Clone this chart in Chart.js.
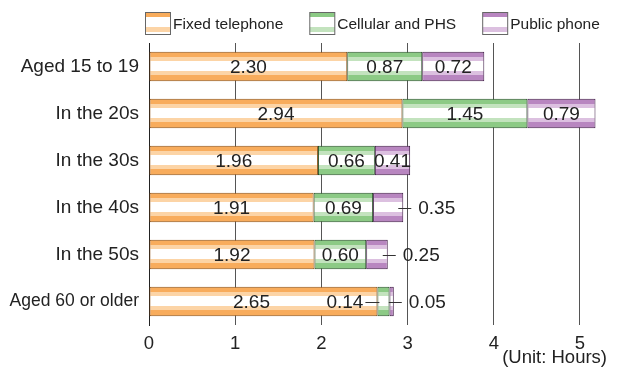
<!DOCTYPE html>
<html>
<head>
<meta charset="utf-8">
<script src="https://cdn.jsdelivr.net/npm/chart.js@4.4.1/dist/chart.umd.min.js"></script>
<style>
  body { margin: 0; background: #fff; }
</style>
</head>
<body>
<canvas id="chart" width="622" height="373"></canvas>
<script>
const ageGroups = ['Aged 15 to 19', 'In the 20s', 'In the 30s', 'In the 40s', 'In the 50s', 'Aged 60 or older'];
const fixedPhone = [2.30, 2.94, 1.96, 1.91, 1.92, 2.65];
const cellularPhs = [0.87, 1.45, 0.66, 0.69, 0.60, 0.14];
const publicPhone = [0.72, 0.79, 0.41, 0.35, 0.25, 0.05];
const seriesNames = ['Fixed telephone', 'Cellular and PHS', 'Public phone'];
const xTicks = [0, 1, 2, 3, 4, 5];
const unitLabel = '(Unit: Hours)';

const FONT = "'Liberation Sans', Arial, sans-serif";
const BAR_PCT = 0.63;
const palette = [
    { dark: '#f8ac5c', light: '#fcd4a6', border: '#8a4d12' },
    { dark: '#8cca85', light: '#c3e3be', border: '#244d24' },
    { dark: '#b886c0', light: '#dcc0e0', border: '#3e1a44' }
];

// horizontal stripes: dark / light / white / light / dark
const stripeFill = (ctx, top, h, c) => {
    const g = ctx.createLinearGradient(0, top, 0, top + h);
    const stops = [
        [0, c.dark], [0.17, c.dark], [0.17, c.light], [0.33, c.light],
        [0.33, '#fff'], [0.65, '#fff'], [0.65, c.light], [0.8, c.light],
        [0.8, c.dark], [1, c.dark]
    ];
    stops.forEach(([o, col]) => g.addColorStop(o, col));
    return g;
};

const barFill = (c) => (context) => {
    const chart = context.chart;
    const area = chart.chartArea;
    if (!area || context.type !== 'data') return c.dark;
    const step = area.height / ageGroups.length;
    const h = step * BAR_PCT;
    const yc = chart.scales.y.getPixelForValue(context.dataIndex);
    return stripeFill(chart.ctx, yc - h / 2, h, c);
};

const makeDataset = (label, data, c) => ({
    label,
    data,
    backgroundColor: barFill(c),
    borderColor: c.border,
    borderWidth: 1,
    borderSkipped: false,
    barPercentage: BAR_PCT,
    categoryPercentage: 1
});

const valueLabels = {
    id: 'valueLabels',
    afterDatasetsDraw(chart) {
        const ctx = chart.ctx;
        const n = chart.data.datasets.length;
        const width = (b) => Math.abs(b.x - b.base);
        ctx.save();
        ctx.font = `19px ${FONT}`;
        ctx.fillStyle = '#222';
        ctx.strokeStyle = '#333';
        ctx.lineWidth = 1;
        ctx.textBaseline = 'middle';
        chart.data.datasets.forEach((ds, i) => {
            chart.getDatasetMeta(i).data.forEach((bar, j) => {
                const text = ds.data[j].toFixed(2);
                const left = Math.min(bar.base, bar.x);
                const right = Math.max(bar.base, bar.x);
                const y = bar.y + 1;
                const ly = Math.round(bar.y) + 0.5;
                if (right - left >= 33) {
                    let cx = (left + right) / 2;
                    // make room when the next (middle) segment is labelled on the left
                    if (i + 1 < n - 1 && width(chart.getDatasetMeta(i + 1).data[j]) < 33) cx -= 12;
                    ctx.textAlign = 'center';
                    ctx.fillText(text, cx, y);
                } else if (i === n - 1) {
                    ctx.beginPath();
                    ctx.moveTo(right - 5, ly);
                    ctx.lineTo(right + 8, ly);
                    ctx.stroke();
                    ctx.textAlign = 'left';
                    ctx.fillText(text, right + 15, y);
                } else {
                    ctx.beginPath();
                    ctx.moveTo(left - 12, ly);
                    ctx.lineTo(left + 2, ly);
                    ctx.stroke();
                    ctx.textAlign = 'right';
                    ctx.fillText(text, left - 14, y);
                }
            });
        });
        ctx.restore();
    }
};

const stripedLegend = {
    id: 'stripedLegend',
    afterDraw(chart) {
        const ctx = chart.ctx;
        const top = 12.5, bw = 25, bh = 22;
        let x = 145;
        ctx.save();
        ctx.font = `15.5px ${FONT}`;
        ctx.textBaseline = 'middle';
        ctx.textAlign = 'left';
        seriesNames.forEach((name, i) => {
            const c = palette[i];
            const g = ctx.createLinearGradient(0, top, 0, top + bh);
            [[0, c.dark], [0.2, c.dark], [0.2, '#fff'], [0.66, '#fff'], [0.66, c.light],
             [0.9, c.light], [0.9, '#fff'], [1, '#fff']].forEach(([o, col]) => g.addColorStop(o, col));
            ctx.fillStyle = g;
            ctx.fillRect(x + 0.5, top, bw, bh);
            ctx.strokeStyle = '#666';
            ctx.lineWidth = 1;
            ctx.strokeRect(x + 0.5, top, bw, bh);
            ctx.fillStyle = '#222';
            ctx.fillText(name, x + 28, top + bh / 2 + 1);
            x += 28 + ctx.measureText(name).width + 26;
        });
        ctx.font = `18.5px ${FONT}`;
        ctx.textAlign = 'right';
        ctx.fillStyle = '#222';
        ctx.fillText(unitLabel, 607, 358);
        ctx.restore();
    }
};

new Chart(document.getElementById('chart'), {
    type: 'bar',
    data: {
        labels: ageGroups,
        datasets: [
            makeDataset(seriesNames[0], fixedPhone, palette[0]),
            makeDataset(seriesNames[1], cellularPhs, palette[1]),
            makeDataset(seriesNames[2], publicPhone, palette[2])
        ]
    },
    options: {
        indexAxis: 'y',
        responsive: false,
        animation: false,
        events: [],
        layout: { padding: { top: 43, right: 11, bottom: 0, left: 0 } },
        plugins: {
            legend: { display: false },
            tooltip: { enabled: false }
        },
        scales: {
            x: {
                stacked: true,
                min: 0,
                max: 5.36,
                afterBuildTicks: (scale) => {
                    scale.ticks = xTicks.map(v => ({ value: v }));
                },
                afterFit: (scale) => { scale.height = 48; },
                ticks: {
                    font: { family: FONT, size: 18.5 },
                    color: '#222',
                    padding: 8,
                    maxRotation: 0
                },
                grid: { color: '#555', lineWidth: 1, drawTicks: false },
                border: { display: false }
            },
            y: {
                stacked: true,
                afterFit: (scale) => { scale.width = 149; },
                ticks: {
                    font: (c) => ({ family: FONT, size: c.index === 5 ? 17.5 : 19 }),
                    color: '#222',
                    padding: 10
                },
                grid: { display: false, drawTicks: false },
                border: { display: true, color: '#222', width: 1 }
            }
        }
    },
    plugins: [valueLabels, stripedLegend]
});
</script>
</body>
</html>
